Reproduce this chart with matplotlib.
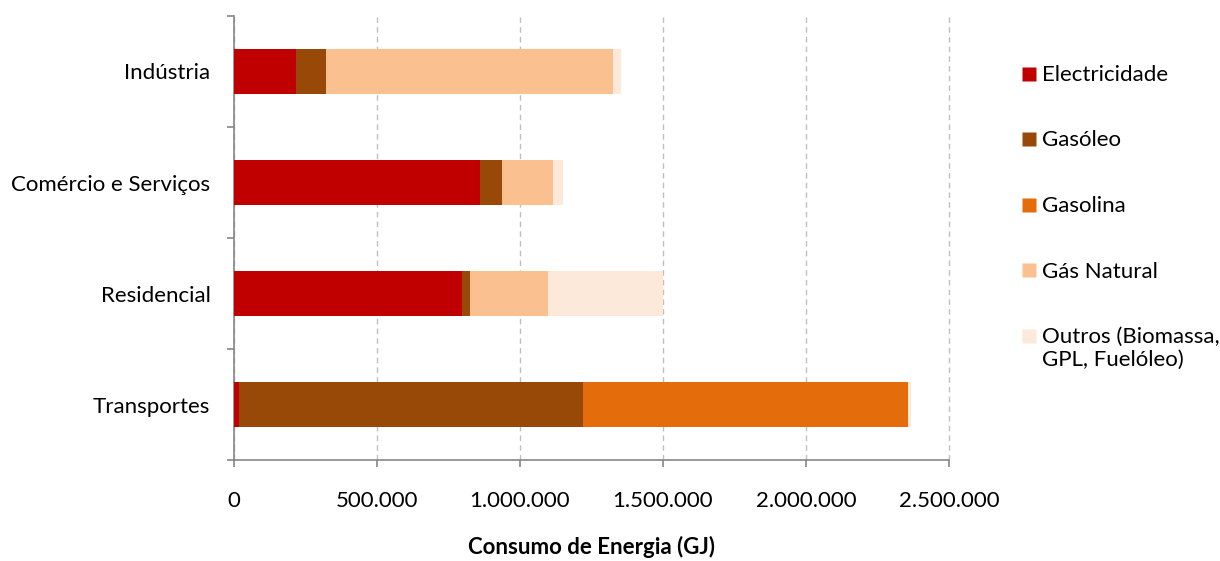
import numpy as np
import matplotlib
matplotlib.use("Agg")
import matplotlib.pyplot as plt
from matplotlib.lines import Line2D
from matplotlib.ticker import FuncFormatter

plt.rcParams['font.family'] = ['Lato', 'DejaVu Sans']

# Energy consumption by sector (GJ)
sectors = ['Indústria', 'Comércio e Serviços', 'Residencial', 'Transportes']
sources = ['Electricidade', 'Gasóleo', 'Gasolina', 'Gás Natural',
           'Outros (Biomassa,\nGPL, Fuelóleo)']
electricidade = [218000, 859000, 799000, 18000]
gasoleo = [102000, 78000, 27000, 1202000]
gasolina = [0, 0, 0, 1136000]
gas_natural = [1006000, 179000, 273000, 0]
outros = [26000, 34000, 401000, 10000]
colors = ['#C00000', '#984807', '#E46C0A', '#FAC090', '#FDE9D9']

series = [electricidade, gasoleo, gasolina, gas_natural, outros]
fs = 16

fig = plt.figure(figsize=(12.2, 5.61), dpi=100)
ax = fig.add_axes([0.1918, 0.18, 0.586, 0.7915])

ypos = np.arange(len(sectors))[::-1]
left = np.zeros(len(sectors))
for vals, col in zip(series, colors):
    ax.barh(ypos, vals, left=left, height=0.4, color=col, zorder=3)
    left += np.array(vals)

ax.set_xlim(0, 2500000)
ax.set_ylim(-0.5, 3.5)

ax.set_xticks(np.arange(0, 2500001, 500000))
ax.xaxis.set_major_formatter(FuncFormatter(lambda v, p: f'{int(v):,}'.replace(',', '.')))
ax.set_yticks(ypos)
ax.set_yticklabels(sectors)
ax.set_yticks(np.arange(-0.5, 3.6, 1), minor=True)

ax.tick_params(axis='y', which='major', length=0, pad=17, labelsize=fs)
ax.tick_params(axis='y', which='minor', length=5, color='#868686', width=1.2)
ax.tick_params(axis='x', length=5, color='#868686', width=1.2, pad=17, labelsize=fs)

ax.grid(axis='x', linestyle=(0, (4, 3)), color='#BFBFBF', linewidth=1, zorder=0)
for gl in ax.get_xgridlines():
    gl.set_clip_on(False)
for s in ['top', 'right']:
    ax.spines[s].set_visible(False)
for s in ['left', 'bottom']:
    ax.spines[s].set_color('#868686')
    ax.spines[s].set_linewidth(1.2)

ax.set_xlabel('Consumo de Energia (GJ)', fontsize=fs, fontweight='bold', labelpad=18)

handles = [Line2D([], [], marker='s', linestyle='none', markersize=9.5,
                  markerfacecolor=c, markeredgecolor='none') for c in colors]
leg = fig.legend(handles, sources, loc='upper left', bbox_to_anchor=(0.8215, 0.92),
                 frameon=False, fontsize=fs, handlelength=0.6, handleheight=1.0,
                 handletextpad=0.3, labelspacing=2.05)
# keep the swatch level with the first line of a two-line label
for column in leg._legend_handle_box.get_children():
    for item in column.get_children():
        item.align = 'top'

fig.savefig('out.png', dpi=100)
